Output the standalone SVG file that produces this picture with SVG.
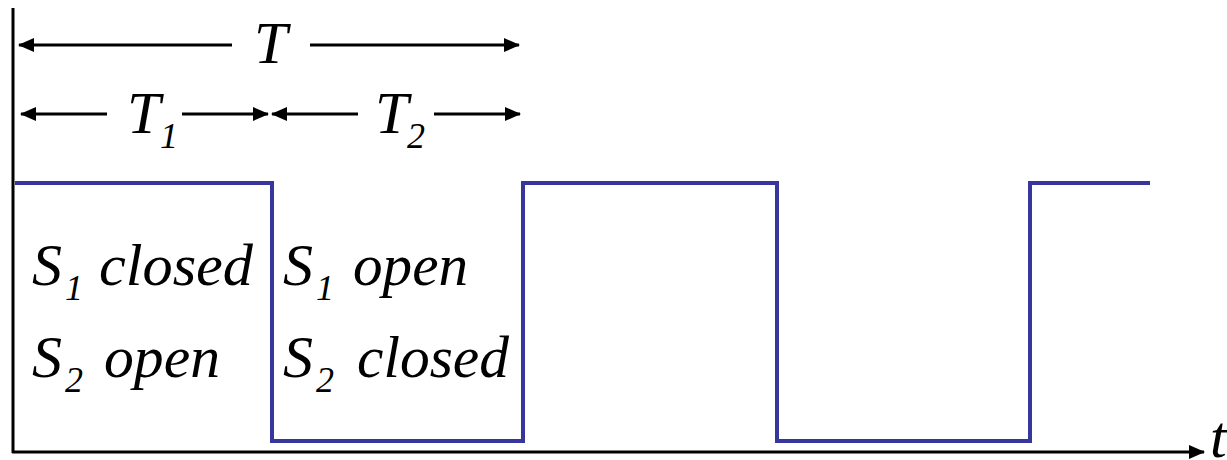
<svg xmlns="http://www.w3.org/2000/svg" width="1227" height="460" viewBox="0 0 1227 460">
<style>
.lbl{font-family:"Liberation Serif","Times New Roman",serif;font-style:italic;font-size:60px;fill:#000}
.sub{font-size:36px}
.dim{stroke:#000;stroke-width:3;fill:none}
.axis{stroke:#000;stroke-width:3;fill:none}
.wave{stroke:#36369c;stroke-width:4;fill:none;stroke-linejoin:miter}
</style>
<defs>
<marker id="ah" markerUnits="userSpaceOnUse" markerWidth="16" markerHeight="14" refX="15" refY="7" orient="auto">
<path d="M0,0 L16,7 L0,14 Z" fill="#000"/>
</marker>
</defs>
<g id="axes">
<line class="axis" x1="13" y1="8" x2="13" y2="453"/>
<line class="axis" x1="12" y1="452" x2="1204" y2="452" marker-end="url(#ah)"/>
<text class="lbl" x="1210" y="457">t</text>
</g>
<g id="waveform">
<polyline class="wave" points="15,183 272,183 272,441 523,441 523,183 777,183 777,441 1030,441 1030,183 1150,183"/>
</g>
<g id="connectors">
<line class="dim" x1="232" y1="45" x2="19" y2="45" marker-end="url(#ah)"/>
<line class="dim" x1="310" y1="45" x2="519" y2="45" marker-end="url(#ah)"/>
<line class="dim" x1="107" y1="114" x2="21" y2="114" marker-end="url(#ah)"/>
<line class="dim" x1="182" y1="114" x2="268" y2="114" marker-end="url(#ah)"/>
<line class="dim" x1="358" y1="114" x2="272" y2="114" marker-end="url(#ah)"/>
<line class="dim" x1="434" y1="114" x2="520" y2="114" marker-end="url(#ah)"/>
</g>
<g id="label-T">
<text class="lbl" x="254" y="63">T</text>
</g>
<g id="label-T1">
<text class="lbl" x="127" y="133">T<tspan class="sub" x="160" y="148">1</tspan></text>
</g>
<g id="label-T2">
<text class="lbl" x="375" y="133">T<tspan class="sub" x="407" y="148">2</tspan></text>
</g>
<g id="state1">
<text class="lbl" x="32" y="285">S<tspan class="sub" x="65" y="300">1</tspan><tspan x="99" y="285" textLength="154" lengthAdjust="spacingAndGlyphs">closed</tspan></text>
<text class="lbl" x="32" y="377">S<tspan class="sub" x="65" y="392">2</tspan><tspan x="104" y="377" textLength="116" lengthAdjust="spacingAndGlyphs">open</tspan></text>
</g>
<g id="state2">
<text class="lbl" x="283" y="285">S<tspan class="sub" x="316" y="300">1</tspan><tspan x="353" y="285" textLength="115" lengthAdjust="spacingAndGlyphs">open</tspan></text>
<text class="lbl" x="283" y="377">S<tspan class="sub" x="316" y="392">2</tspan><tspan x="357" y="377" textLength="152" lengthAdjust="spacingAndGlyphs">closed</tspan></text>
</g>
</svg>
